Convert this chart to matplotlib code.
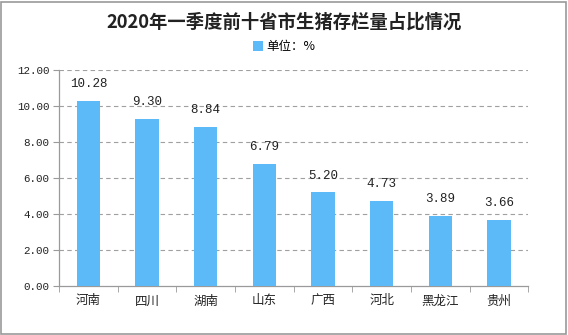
import matplotlib.pyplot as plt
from matplotlib.patches import Rectangle

plt.rcParams['font.family'] = ['Noto Sans CJK SC', 'DejaVu Sans']

provinces = ['河南', '四川', '湖南', '山东', '广西', '河北', '黑龙江', '贵州']
share = [10.28, 9.30, 8.84, 6.79, 5.20, 4.73, 3.89, 3.66]
yticks = [0, 2, 4, 6, 8, 10, 12]

bar_color = '#5bbaf7'
axis_color = '#9a9a9a'

fig = plt.figure(figsize=(5.68, 3.35), dpi=100)
ax = fig.add_axes([0.104, 0.146, 0.826, 0.645])

x = list(range(len(provinces)))
ax.bar(x, share, width=0.4, color=bar_color, label='单位：%', zorder=3)

for xi, v in zip(x, share):
    ax.text(xi, v + 0.6, f'{v:.2f}', ha='center', va='bottom',
            fontsize=9, family=['Liberation Mono'], color='#222222')

ax.set_xlim(-0.5, len(provinces) - 0.5)
ax.set_ylim(0, 12)
ax.set_yticks(yticks)
ax.set_yticklabels([f'{t:.2f}' for t in yticks], family=['Liberation Mono'], fontsize=7.8)
ax.set_xticks(x)
ax.set_xticklabels(provinces, fontsize=9)
ax.set_xticks([i - 0.5 for i in range(len(provinces) + 1)], minor=True)
ax.tick_params(axis='x', which='major', length=0, pad=6, colors='#222222')
ax.tick_params(axis='x', which='minor', length=4, color=axis_color)
ax.tick_params(axis='y', length=4, color=axis_color, labelcolor='#222222', pad=3)

for y in yticks[1:]:
    ax.axhline(y, color='#a0a0a0', linestyle=(0, (4, 3)), linewidth=0.8, zorder=1)

for s in ['top', 'right']:
    ax.spines[s].set_visible(False)
for s in ['left', 'bottom']:
    ax.spines[s].set_color(axis_color)
    ax.spines[s].set_linewidth(0.9)

fig.text(0.5, 0.935, '2020年一季度前十省市生猪存栏量占比情况', ha='center', va='center',
         fontsize=13.2, fontweight='bold', color='#222222')

leg = fig.legend(loc='center', bbox_to_anchor=(0.5, 0.86), frameon=False,
                 fontsize=9, handlelength=0.8, handleheight=0.8, handletextpad=0.3)

fig.patches.append(Rectangle((0.002, 0.003), 0.994, 0.992, transform=fig.transFigure,
                             fill=False, edgecolor='#999999', linewidth=1.2))

fig.savefig('out.png', dpi=100)
